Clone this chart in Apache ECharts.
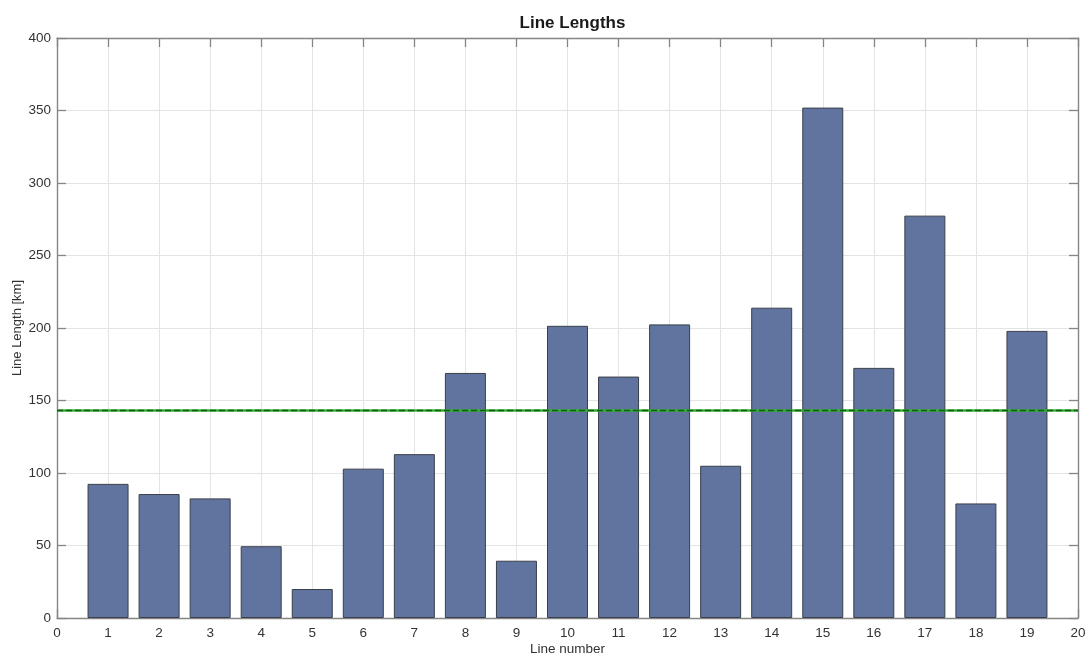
<!DOCTYPE html>
<html>
<head>
<meta charset="utf-8">
<title>Line Lengths</title>
<script src="https://cdn.jsdelivr.net/npm/echarts@6/dist/echarts.min.js"></script>
<style>
  html, body { margin: 0; padding: 0; background: #ffffff; }
  #chart { width: 1092px; height: 657px; }
</style>
</head>
<body>
<div id="chart"></div>
<script>
// Line numbers and their lengths in km
const lineNumbers = [1, 2, 3, 4, 5, 6, 7, 8, 9, 10, 11, 12, 13, 14, 15, 16, 17, 18, 19];
const lineLengths = [92.5, 85.5, 82.5, 49.5, 20, 103, 113, 169, 39.5, 201.5, 166.5, 202.5, 105, 214, 352, 172.5, 277.5, 79, 198];

const xTicks = { min: 0, max: 20, step: 1 };
const yTicks = { min: 0, max: 400, step: 50 };

const chart = echarts.init(document.getElementById('chart'), null, { renderer: 'canvas' });

const axisGray = '#858585';
const textColor = '#333333';
const fontFamily = 'Arial, "Liberation Sans", Helvetica, sans-serif';

// Plot box in pixels
const box = { left: 57, right: 14, top: 38, bottom: 39 };
const boxCenterX = box.left + (1092 - box.left - box.right) / 2;

const barData = lineNumbers.map((n, i) => [n, lineLengths[i]]);

// Boxed frame: secondary axes carry the inward ticks on top and right
const frameAxis = (extra) => Object.assign({
  type: 'value',
  axisLine: { show: true, onZero: false, lineStyle: { color: axisGray, width: 1.4 } },
  axisTick: { show: true, inside: true, length: 9, lineStyle: { color: axisGray, width: 1.3 } },
  axisLabel: { show: false },
  splitLine: { show: false }
}, extra);

chart.setOption({
  animation: false,
  backgroundColor: '#ffffff',
  title: {
    text: 'Line Lengths',
    left: boxCenterX,
    top: 10,
    textAlign: 'center',
    textStyle: { fontFamily, fontSize: 17, fontWeight: 'bold', color: '#1a1a1a' }
  },
  grid: Object.assign({ containLabel: false, outerBoundsMode: 'none' }, box),
  xAxis: [
    {
      type: 'value',
      min: xTicks.min, max: xTicks.max, interval: xTicks.step,
      name: 'Line number',
      nameLocation: 'middle',
      nameGap: 24,
      nameMoveOverlap: false,
      nameTextStyle: { fontFamily, fontSize: 13.5, color: textColor },
      axisLine: { show: true, onZero: false, lineStyle: { color: axisGray, width: 1.4 } },
      axisTick: { show: true, inside: true, length: 9, lineStyle: { color: axisGray, width: 1.3 } },
      axisLabel: { fontFamily, fontSize: 13.5, color: textColor, margin: 8 },
      splitLine: { show: true, lineStyle: { color: '#e4e4e4', width: 1 } }
    },
    frameAxis({ position: 'top', min: xTicks.min, max: xTicks.max, interval: xTicks.step })
  ],
  yAxis: [
    {
      type: 'value',
      min: yTicks.min, max: yTicks.max, interval: yTicks.step,
      name: 'Line Length [km]',
      nameLocation: 'middle',
      nameGap: 33,
      nameMoveOverlap: false,
      nameTextStyle: { fontFamily, fontSize: 13, color: textColor },
      axisLine: { show: true, onZero: false, lineStyle: { color: axisGray, width: 1.4 } },
      axisTick: { show: true, inside: true, length: 9, lineStyle: { color: axisGray, width: 1.3 } },
      axisLabel: { fontFamily, fontSize: 13.5, color: textColor, margin: 6 },
      splitLine: { show: true, lineStyle: { color: '#e4e4e4', width: 1 } }
    },
    frameAxis({ position: 'right', min: yTicks.min, max: yTicks.max, interval: yTicks.step })
  ],
  series: [
    {
      type: 'bar',
      xAxisIndex: 0,
      yAxisIndex: 0,
      data: barData,
      barWidth: 41,
      itemStyle: { color: '#61749f', borderColor: '#3a3f4a', borderWidth: 1 },
      markLine: {
        silent: true,
        symbol: 'none',
        label: { show: false },
        data: [
          { type: 'average', valueDim: 'y', lineStyle: { color: '#2fae2f', type: 'solid', width: 2.6 } },
          { type: 'average', valueDim: 'y', lineStyle: { color: '#145c14', type: [6, 3], width: 1.3 } }
        ]
      }
    }
  ]
});
</script>
</body>
</html>
